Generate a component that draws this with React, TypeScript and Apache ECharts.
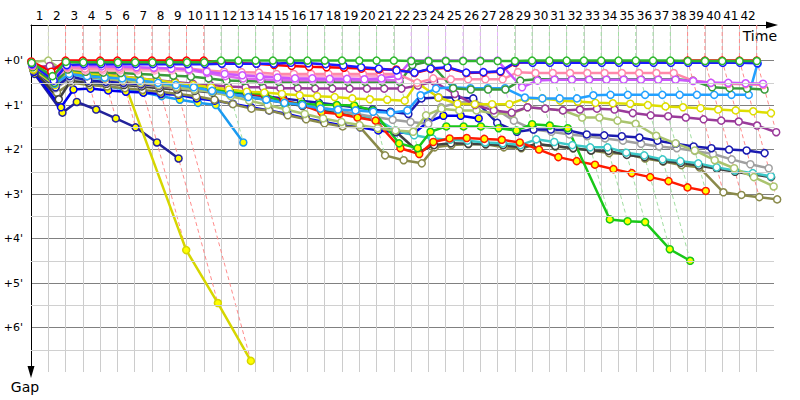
import React, { useEffect, useRef } from "react";
import * as echarts from "echarts";

// ---- tick labels ----
const lapLabels: string[] = [
  "1","2","3","4","5","6","7","8","9","10","11","12","13","14","15","16","17","18","19","20","21",
  "22","23","24","25","26","27","28","29","30","31","32","33","34","35","36","37","38","39","40","41","42","",
];
const halfMinuteLines = [0.5, 1.5, 2.5, 3.5, 4.5, 5.5, 6.5];
const GAP_MIN = -0.8;
const GAP_MAX = 7;
// one minute of gap = 0.7 leader laps on the time axis
const LAPS_PER_MINUTE = 0.7;

// ---- gaps (minutes) per lap, index = lap 0..n ----
const gr = [0.05,0.35,0.03, 0.04,0.04,0.04,0.04,0.04,0.04,0.04,0.04, 0,0,0,0,0,0,0,0,0,0,0, 0.01,0.01,0.01,0.01,0.01,0.01,0.01, 0,0,0,0,0,0,0,0,0, 0.01,0.01,0.01,0.01,0.01];
const rd = [0.02,0.25, 0,0,0,0,0,0,0,0,0, 0.05,0.06,0.07,0.1,0.12,0.14,0.15,0.16,0.18,0.2,0.2,0.28,0.19,0.16,0.28,0.27,0.25, 0.05, 0.03,0.03,0.03,0.03,0.03,0.03,0.03,0.03,0.03, 0,0,0,0,0];
const bl = [0.08,0.45,0.1, 0.08,0.08,0.08,0.08,0.08,0.08,0.08,0.08, 0.07,0.07,0.07,0.07,0.05,0.06,0.08,0.11,0.15,0.18,0.22,0.27,0.18,0.15,0.27,0.26,0.24,0.04, 0.05,0.05,0.05,0.05,0.05,0.05,0.05,0.05,0.05,0.05,0.05,0.05,0.05, 0.06];
const vi = [0.1,0.38,0.12,0.12,0.13,0.14,0.15,0.16,0.18,0.2,0.25,0.3,0.33,0.36,0.38,0.4,0.4,0.41,0.41,0.42,0.4,0.34, 0,0,0,0,0,0, 0.6,0.45, 0.43,0.43,0.43,0.43,0.43,0.43,0.43,0.43, 0.46,0.5,0.5,0.51,0.52];
const pk = [0.12,0.4,0.15, 0.18,0.18,0.18,0.18,0.18,0.18,0.18, 0.22,0.25,0.26,0.27, 0.3,0.3,0.3,0.3,0.3,0.3,0.3,0.3, 0.5,0.4,0.42,0.42,0.42,0.42,0.26, 0.28,0.28,0.28,0.28,0.28,0.28,0.28,0.28,0.28, 0.45,0.5,0.52,0.53,0.55];
const lp = [0.1,0.42,0.17, 0.22,0.22,0.22,0.22,0.22,0.22,0.22,0.22, 0.3,0.32,0.33, 0.35,0.35,0.35,0.35,0.35,0.35,0.35,0.35];
const mg = [0.09,0.37,0.13,0.14,0.15,0.16,0.17,0.18,0.2,0.22,0.28,0.35,0.4,0.42, 0.44,0.44,0.44,0.44,0.44,0.44,0.44,0.44];
const dg = [0.15,0.5,0.2,0.25,0.27,0.28,0.3,0.32,0.34,0.36,0.4,0.45,0.46,0.47, 0.48,0.48,0.48,0.48,0.48,0.48,0.48,0.48, 0.1,0.02,0.62,0.65,0.65,0.65,0.45, 0.42,0.42,0.42,0.42,0.42,0.42,0.42,0.42,0.42, 0.45,0.6,0.62,0.63,0.65];
const lb = [0.12,0.52,0.3,0.35,0.38,0.4,0.45,0.5,0.55,0.6,0.68,0.75,0.82,0.88,0.95,1.0,1.08,1.1,1.12,1.15,1.17,1.12,0.78,0.63,0.6,0.62,0.62,0.62,0.83,0.85,0.85,0.85,0.78, 0.77,0.77,0.77,0.77,0.77,0.77,0.77,0.77,0.77, 0.07];
const yh = [0.2,0.55,0.25,0.28,0.32,0.36,0.4,0.45,0.5,0.55,0.6,0.65,0.7,0.72,0.75,0.78,0.8,0.82,0.85,0.87,0.88,0.9,0.5,0.83,0.97,0.98,0.98,0.98,0.85,0.85,0.9,0.92,0.95,0.96,0.97,1.0,1.03,1.05,1.07,1.1,1.12,1.14,1.18];
const pu = [0.15,0.12,0.22,0.25,0.3,0.35,0.4,0.44,0.48,0.52,0.55,0.58,0.6,0.6,0.62,0.62,0.63,0.63,0.63,0.63,0.63,0.63,0.56,0.47,0.75,1.0,1.12,1.17,1.05,1.08,1.12,1.1,1.08,1.1,1.18,1.23,1.25,1.28,1.32,1.35,1.37,1.46,1.61];
const lo = [0.03,0,0.3,0.35,0.4,0.45,0.5,0.55,0.6,0.65,0.7,0.8,0.9,1.0,1.1,1.2,1.3,1.38,1.45,1.52,1.57,1.6,1.23,1.08,1.12,1.12,1.19,1.19,1.05,1.08,1.12,1.28,1.28,1.35,1.42,1.69,1.86,2.02,2.24,2.42,2.62,2.83];
const nv = [0.2,0.6,0.35,0.45,0.48,0.5,0.53,0.56,0.6,0.62,0.65,0.7,0.75,0.8,0.85,0.9,0.95,1.0,1.05,1.1,1.15,1.2,0.85,0.83,0.83,0.85,1.4,1.6,1.55,1.55,1.57,1.66,1.68,1.7,1.73,1.8,1.87,1.93,1.97,2.0,2.02,2.08];
const gy = [0.2,0.62,0.4,0.45,0.5,0.52,0.55,0.58,0.62,0.66,0.7,0.75,0.8,0.86,0.92,0.98,1.05,1.12,1.2,1.27,1.33,1.38,1.42,1.05,0.95,0.92,1.05,1.35,1.55,1.6,1.66,1.7,1.75,1.8,1.87,1.93,1.97,2.03,2.1,2.22,2.33,2.42];
const tq = [0.18,0.55,0.3,0.38,0.42,0.45,0.48,0.52,0.56,0.6,0.65,0.7,0.76,0.82,0.9,0.98,1.06,1.14,1.22,1.3,1.57,1.68,1.75,1.78,1.8,1.84,1.86,1.9,1.77,1.83,1.9,1.95,1.95,2.07,2.13,2.22,2.26,2.31,2.4,2.47,2.53,2.6];
const dk = [0.2,0.87,0.45,0.5,0.52,0.55,0.58,0.62,0.65,0.68,0.72,0.76,0.82,0.88,0.95,1.02,1.1,1.18,1.25,1.32,1.6,2.06,1.9,1.86,1.87,1.88,1.9,1.95,1.88,1.92,1.97,2.02,2.03,2.12,2.17,2.26,2.3,2.36,2.43,2.5,2.56,2.62];
const kh = [0.22,0.72,0.5,0.55,0.58,0.62,0.66,0.7,0.75,0.8,0.88,0.98,1.08,1.12,1.23,1.32,1.41,1.48,1.5,2.13,2.24,2.31,1.95,1.9,1.88,1.88,1.95,1.97,1.88,1.93,1.97,2.02,2.08,2.1,2.2,2.27,2.35,2.4,2.96,3.02,3.07,3.12];
const ry = [0.15,0.5,0.25,0.35,0.4,0.45,0.5,0.55,0.6,0.63,0.63,0.65,0.72,0.8,0.9,1.0,1.16,1.2,1.28,1.35,1.97,2.1,1.83,1.75,1.74,1.76,1.78,1.84,2.0,2.17,2.26,2.34,2.44,2.53,2.62,2.71,2.85,2.93];
const gy2 = [0.12,0.45,0.2,0.3,0.35,0.4,0.45,0.5,0.55,0.6,0.65,0.7,0.72,0.75,0.97,0.97,0.99,1.0,1.01,1.12,1.86,1.97,1.6,1.48,1.48,1.48,1.52,1.57,1.43,1.46,1.52,3.57,3.61,3.63,4.24,4.5];
const by = [0.25,1.05,0.65,0.63,0.67,0.7,0.72,0.75,0.77,0.85,0.9,0.97,1.05,1.12,1.2,1.3,1.38,1.46,1.5,1.57,1.61,1.64,1.38,1.24,1.24,1.3];
const yy = [0.1,0.4,0.15,0.18,0.27,0.27,4.26,5.45,6.75];
const ny = [0.3,1.17,0.93,1.1,1.3,1.5,1.84,2.2];
const lby = [0.18,0.6,0.4,0.5,0.58,0.65,0.72,0.8,0.88,0.95,1.0,1.84];

type Rider = { color: string; fill: string; gaps: number[] };
const HOLLOW = "#ffffff";
const YEL = "#ffff00";
const riders: Rider[] = [
  { color: "#22229a", fill: YEL, gaps: ny },
  { color: "#d6d600", fill: YEL, gaps: yy },
  { color: "#1a9af0", fill: YEL, gaps: lby },
  { color: "#0000ee", fill: YEL, gaps: by },
  { color: "#8a8a4a", fill: HOLLOW, gaps: kh },
  { color: "#404040", fill: HOLLOW, gaps: dk },
  { color: "#3cc8c8", fill: HOLLOW, gaps: tq },
  { color: "#a0a0a0", fill: HOLLOW, gaps: gy },
  { color: "#1a1ab0", fill: HOLLOW, gaps: nv },
  { color: "#ff1a00", fill: YEL, gaps: ry },
  { color: "#18c818", fill: YEL, gaps: gy2 },
  { color: "#aac46e", fill: HOLLOW, gaps: lo },
  { color: "#9a3a9a", fill: HOLLOW, gaps: pu },
  { color: "#dede00", fill: HOLLOW, gaps: yh },
  { color: "#22a0ff", fill: HOLLOW, gaps: lb },
  { color: "#3a9a3a", fill: HOLLOW, gaps: dg },
  { color: "#dd66ee", fill: HOLLOW, gaps: mg },
  { color: "#ffaacc", fill: HOLLOW, gaps: lp },
  { color: "#ff88aa", fill: HOLLOW, gaps: pk },
  { color: "#cc55ff", fill: HOLLOW, gaps: vi },
  { color: "#ff0000", fill: HOLLOW, gaps: rd },
  { color: "#1a1aff", fill: HOLLOW, gaps: bl },
  { color: "#2db82d", fill: HOLLOW, gaps: gr },
];

function lighten(hex: string, t: number): string {
  const n = parseInt(hex.slice(1), 16);
  const r = (n >> 16) & 255, g = (n >> 8) & 255, b = n & 255;
  const m = (c: number) => Math.round(c + (255 - c) * t);
  return `rgb(${m(r)},${m(g)},${m(b)})`;
}

const FONT = "DejaVu Sans";

function buildOption() {
  const series: any[] = [];

  // half-minute horizontal guides
  series.push({
    type: "line",
    xAxisIndex: 1,
    data: [],
    silent: true,
    z: 0,
    markLine: {
      silent: true,
      symbol: ["none", "none"],
      label: { show: false },
      lineStyle: { color: "#d0d0d0", type: "solid", width: 1 },
      data: halfMinuteLines.map((v) => ({ yAxis: v })),
    },
  });

  // iso-lap dashed lines (coloured after the lap leader)
  for (let k = 1; k < lapLabels.length; k++) {
    let lead = -1, leadGap = Infinity, maxGap = -Infinity;
    riders.forEach((r, i) => {
      const g = r.gaps[k];
      if (g === undefined || g === null) return;
      if (g < leadGap) { leadGap = g; lead = i; }
      if (g > maxGap) maxGap = g;
    });
    if (lead < 0) continue;
    series.push({
      type: "line",
      xAxisIndex: 1,
      silent: true,
      symbol: "none",
      z: 1,
      clip: false,
      lineStyle: { color: lighten(riders[lead].color, 0.55), width: 1, type: [4, 3] },
      data: [[k, GAP_MIN], [k, leadGap], [k + maxGap * LAPS_PER_MINUTE, maxGap]],
    });
  }

  riders.forEach((r) => {
    series.push({
      type: "line",
      xAxisIndex: 1,
      z: 3,
      clip: false,
      symbol: "circle",
      symbolSize: 7,
      showSymbol: true,
      showAllSymbol: true,
      lineStyle: { color: r.color, width: 2.5 },
      itemStyle: { color: r.fill, borderColor: r.color, borderWidth: 1.5 },
      emphasis: { disabled: true },
      data: r.gaps.map((g, k) => [k + g * LAPS_PER_MINUTE, g]),
    });
  });

  return {
    animation: false,
    textStyle: { fontFamily: FONT },
    grid: { left: 31, right: 26, top: 25, bottom: 28 },
    xAxis: [
      {
        type: "category",
        position: "top",
        data: lapLabels,
        boundaryGap: true,
        axisLine: { show: true, onZero: false, lineStyle: { color: "#000", width: 1 } },
        axisTick: { show: false },
        axisLabel: { interval: 0, margin: 3, fontSize: 12, color: "#000", fontFamily: FONT },
        splitLine: {
          show: true,
          interval: 0,
          showMinLine: false,
          showMaxLine: false,
          lineStyle: { color: "#cccccc", width: 1 },
        },
        name: "Time",
        nameLocation: "end",
        nameGap: 3,
        nameTextStyle: {
          fontSize: 14,
          color: "#000",
          fontFamily: FONT,
          align: "right",
          verticalAlign: "top",
          padding: [4, 0, 0, 0],
        },
      },
      { type: "value", min: 0, max: lapLabels.length, show: false },
    ],
    yAxis: {
      type: "value",
      inverse: true,
      min: GAP_MIN,
      max: GAP_MAX,
      splitNumber: 8,
      axisLine: { show: true, onZero: false, lineStyle: { color: "#000", width: 1 } },
      axisTick: { show: false },
      axisLabel: {
        color: "#000",
        fontSize: 11,
        fontFamily: FONT,
        formatter: (v: number) =>
          v >= 0 && v <= 6 && Math.abs(v - Math.round(v)) < 1e-9 ? `+${Math.round(v)}'` : "",
      },
      splitLine: {
        show: true,
        showMinLine: false,
        showMaxLine: false,
        lineStyle: { color: "#808080", width: 1 },
      },
      name: "Gap",
      nameLocation: "end",
      nameGap: 8,
      nameTextStyle: {
        fontSize: 14,
        color: "#000",
        fontFamily: FONT,
        align: "center",
        verticalAlign: "top",
        padding: [0, 12, 0, 0],
      },
    },
    series,
  };
}

export default function App() {
  const ref = useRef<HTMLDivElement>(null);
  useEffect(() => {
    if (!ref.current) return;
    const chart = echarts.init(ref.current, undefined, { renderer: "svg" });
    chart.setOption(buildOption() as any);
    // axis arrow heads placed at the axes' ends
    const right = chart.convertToPixel({ xAxisIndex: 1 }, lapLabels.length) as number;
    const left = chart.convertToPixel({ xAxisIndex: 1 }, 0) as number;
    const top = chart.convertToPixel({ yAxisIndex: 0 }, GAP_MIN) as number;
    const bottom = chart.convertToPixel({ yAxisIndex: 0 }, GAP_MAX) as number;
    chart.setOption({
      graphic: [
        {
          type: "polygon",
          silent: true,
          shape: { points: [[right + 4, top], [right - 8, top - 3.5], [right - 8, top + 3.5]] },
          style: { fill: "#000" },
          z: 100,
        },
        {
          type: "polygon",
          silent: true,
          shape: { points: [[left, bottom + 6], [left - 3.5, bottom - 6], [left + 3.5, bottom - 6]] },
          style: { fill: "#000" },
          z: 100,
        },
      ],
    });
    return () => chart.dispose();
  }, []);
  return (
    <div
      ref={ref}
      style={{ position: "fixed", left: 0, top: 0, width: 800, height: 400, background: "#fff" }}
    />
  );
}
